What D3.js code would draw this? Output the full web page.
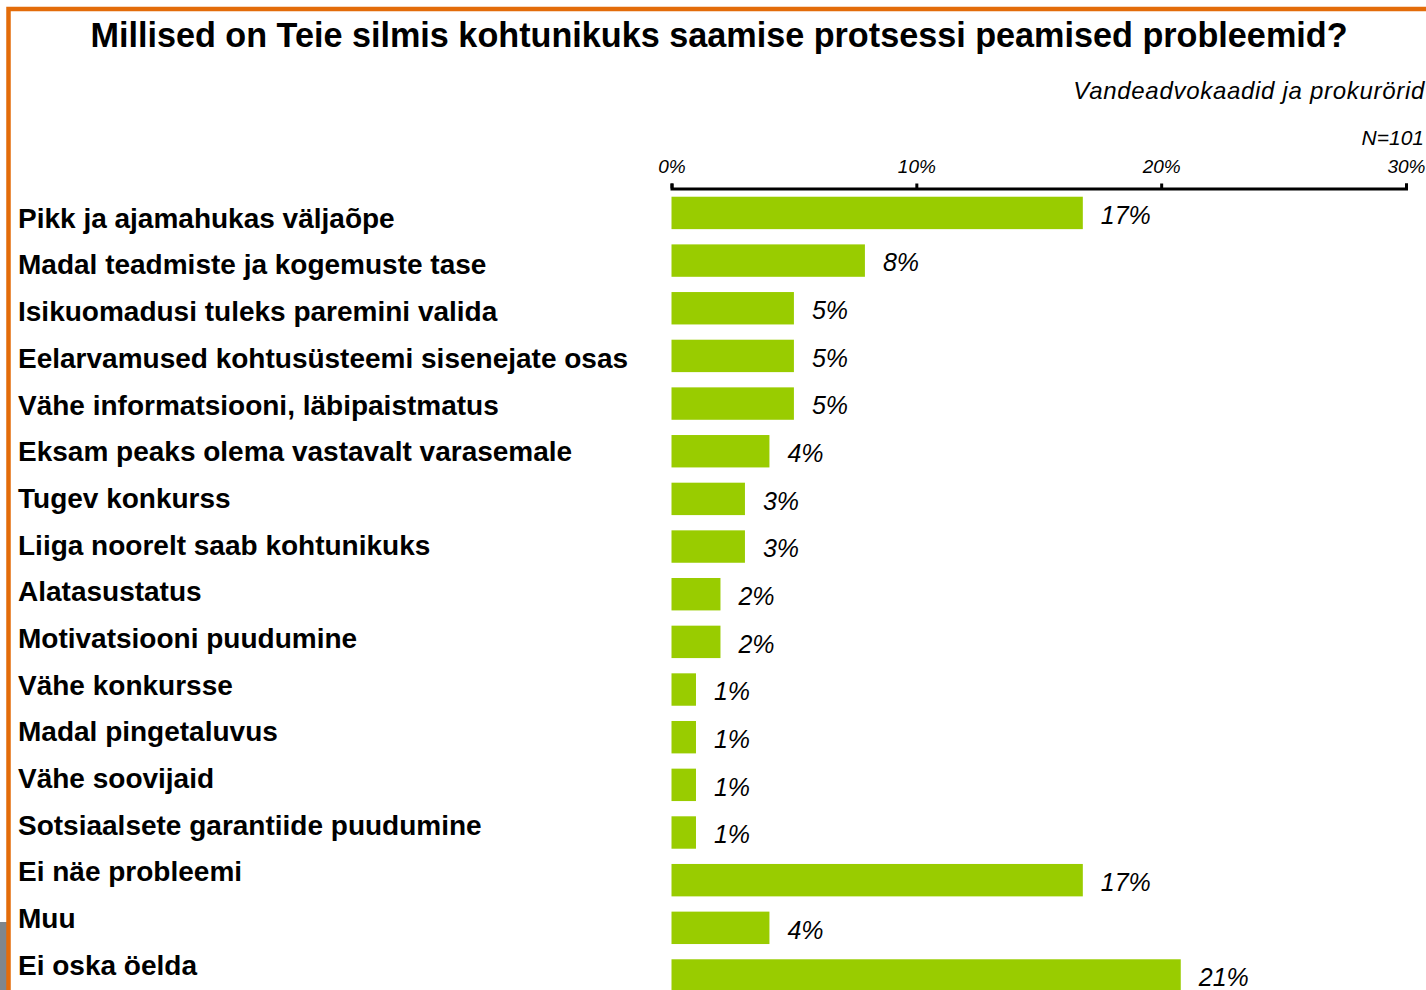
<!DOCTYPE html>
<html>
<head>
<meta charset="utf-8">
<script src="https://cdn.jsdelivr.net/npm/d3@7"></script>
<style>
  html, body { margin: 0; padding: 0; background: #fff; overflow: hidden; }
  svg { display: block; font-family: "Liberation Sans", Arial, sans-serif; }
</style>
</head>
<body>
<svg id="chart"></svg>
<script>
const categories = [
  'Pikk ja ajamahukas väljaõpe',
  'Madal teadmiste ja kogemuste tase',
  'Isikuomadusi tuleks paremini valida',
  'Eelarvamused kohtusüsteemi sisenejate osas',
  'Vähe informatsiooni, läbipaistmatus',
  'Eksam peaks olema vastavalt varasemale',
  'Tugev konkurss',
  'Liiga noorelt saab kohtunikuks',
  'Alatasustatus',
  'Motivatsiooni puudumine',
  'Vähe konkursse',
  'Madal pingetaluvus',
  'Vähe soovijaid',
  'Sotsiaalsete garantiide puudumine',
  'Ei näe probleemi',
  'Muu',
  'Ei oska öelda'
];
// shares in percent
const values = [16.8, 7.9, 5.0, 5.0, 5.0, 4.0, 3.0, 3.0, 2.0, 2.0, 1.0, 1.0, 1.0, 1.0, 16.8, 4.0, 20.8];
const valueLabels = ['17%', '8%', '5%', '5%', '5%', '4%', '3%', '3%', '2%', '2%', '1%', '1%', '1%', '1%', '17%', '4%', '21%'];
const axisTicks = [0, 10, 20, 30];

const TITLE = 'Millised on Teie silmis kohtunikuks saamise protsessi peamised probleemid?';
const SUBTITLE = 'Vandeadvokaadid ja prokurörid';
const SAMPLE = 'N=101';

const WIDTH = 1426;
const HEIGHT = 990;
const BAR_COLOR = '#99cc00';
const BORDER_COLOR = '#e36c0a';

const data = categories.map((c, i) => ({ cat: c, value: values[i], label: valueLabels[i] }));

const svg = d3.select('#chart')
  .attr('width', WIDTH)
  .attr('height', HEIGHT);

/* --FRAME-- */
svg.append('rect')
  .attr('x', 0)
  .attr('y', 922)
  .attr('width', 7)
  .attr('height', HEIGHT - 922)
  .attr('fill', '#7f868c');

svg.append('rect')
  .attr('x', 8.5)
  .attr('y', 9)
  .attr('width', WIDTH + 40)
  .attr('height', HEIGHT + 40)
  .attr('fill', 'none')
  .attr('stroke', BORDER_COLOR)
  .attr('stroke-width', 4.5);

/* --TEXT-- */
svg.append('text')
  .attr('x', 719)
  .attr('y', 47)
  .attr('text-anchor', 'middle')
  .attr('font-size', 34.2)
  .attr('font-weight', 'bold')
  .attr('fill', '#000')
  .text(TITLE);

svg.append('text')
  .attr('x', 1425)
  .attr('y', 99)
  .attr('text-anchor', 'end')
  .attr('font-size', 24)
  .attr('font-style', 'italic')
  .attr('letter-spacing', 0.7)
  .attr('fill', '#000')
  .text(SUBTITLE);

svg.append('text')
  .attr('x', 1424)
  .attr('y', 145)
  .attr('text-anchor', 'end')
  .attr('font-size', 21)
  .attr('font-style', 'italic')
  .attr('fill', '#000')
  .text(SAMPLE);

/* --SCALES-- */
const x = d3.scaleLinear()
  .domain([0, 30])
  .range([671.5, 1406]);

const y = d3.scaleBand()
  .domain(categories)
  .range([189.1, 189.1 + 17 * 47.66])
  .paddingInner(0.32)
  .paddingOuter(0.16);

const yLabel = d3.scalePoint()
  .domain(categories)
  .range([218, 965]);

/* --AXIS-- */
const xAxis = d3.axisTop(x)
  .tickValues(axisTicks)
  .tickSize(5)
  .tickSizeOuter(5)
  .tickPadding(11)
  .tickFormat(d => d + '%');

const axisG = svg.append('g')
  .attr('transform', 'translate(0, 188.5)')
  .call(xAxis);

axisG.select('.domain')
  .attr('stroke', '#000')
  .attr('stroke-width', 3);
axisG.selectAll('.tick line')
  .attr('stroke', '#000')
  .attr('stroke-width', 3);
axisG.selectAll('.tick text')
  .attr('font-family', '"Liberation Sans", Arial, sans-serif')
  .attr('font-size', 19)
  .attr('font-style', 'italic')
  .attr('fill', '#000');

/* --BARS-- */
svg.append('g')
  .selectAll('rect')
  .data(data)
  .join('rect')
  .attr('x', x(0))
  .attr('y', d => y(d.cat))
  .attr('width', d => x(d.value) - x(0))
  .attr('height', y.bandwidth())
  .attr('fill', BAR_COLOR);

svg.append('g')
  .selectAll('text')
  .data(data)
  .join('text')
  .attr('x', d => x(d.value) + 18)
  .attr('y', d => y(d.cat) + y.bandwidth() / 2 + 2)
  .attr('dy', '0.35em')
  .attr('font-size', 25)
  .attr('font-style', 'italic')
  .attr('fill', '#000')
  .text(d => d.label);

/* --CATEGORY LABELS-- */
svg.append('g')
  .selectAll('text')
  .data(data)
  .join('text')
  .attr('x', 18)
  .attr('y', d => yLabel(d.cat))
  .attr('dy', '0.35em')
  .attr('font-size', 28)
  .attr('font-weight', 'bold')
  .attr('fill', '#000')
  .text(d => d.cat);
</script>
</body>
</html>
